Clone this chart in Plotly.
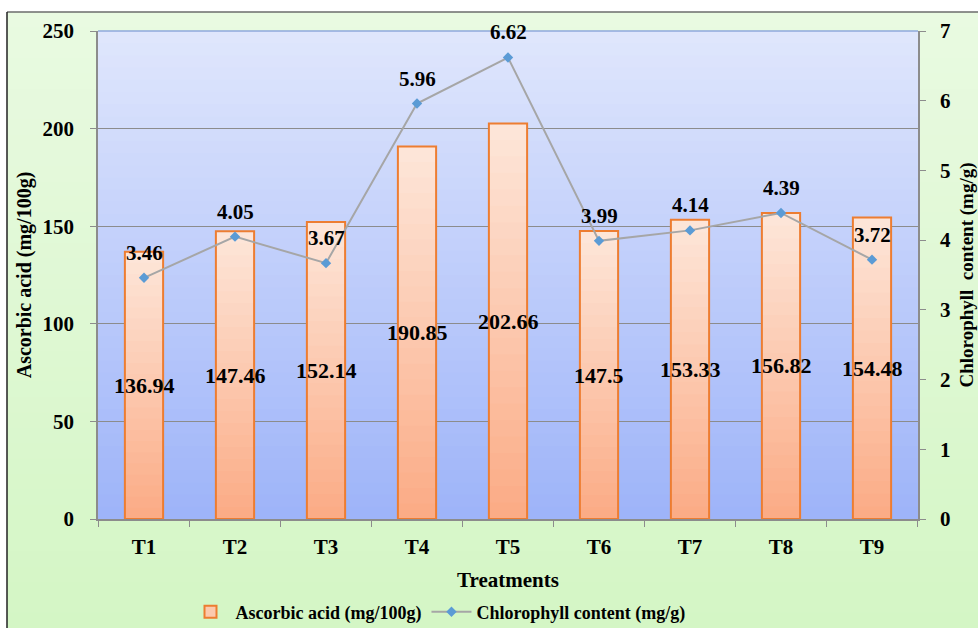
import plotly.graph_objects as go

categories = ["T1", "T2", "T3", "T4", "T5", "T6", "T7", "T8", "T9"]
ascorbic = [136.94, 147.46, 152.14, 190.85, 202.66, 147.5, 153.33, 156.82, 154.48]
chlorophyll = [3.46, 4.05, 3.67, 5.96, 6.62, 3.99, 4.14, 4.39, 3.72]

W, H = 978, 628
ML, MR, MT, MB = 98, 60, 31, 109
PW, PH = W - ML - MR, H - MT - MB

FONT = "Liberation Serif, Times New Roman, serif"


def px2x(px):
    return (px - ML) / PW


def py2y(py):
    return (H - MB - py) / PH


def lerp(c1, c2, t):
    return "rgb(%d,%d,%d)" % tuple(round(a + (b - a) * t) for a, b in zip(c1, c2))


fig = go.Figure()

# gradient bars (overlay of stacked shades)
N = 24
bar_top = (253, 229, 216)
bar_bot = (251, 172, 134)
for k in range(N):
    frac = (N - k) / N
    fig.add_trace(go.Bar(
        x=categories, y=[v * frac for v in ascorbic],
        marker=dict(color=lerp(bar_top, bar_bot, k / (N - 1)), line=dict(width=0)),
        width=0.42, showlegend=False, hoverinfo="skip",
    ))
fig.add_trace(go.Bar(
    x=categories, y=ascorbic, width=0.42, name="Ascorbic acid (mg/100g)",
    marker=dict(color="rgba(0,0,0,0)", line=dict(color="#ed7d31", width=2)),
    showlegend=False,
))
# legend entry for the bars
fig.add_trace(go.Bar(
    x=[categories[0]], y=[None], name="Ascorbic acid (mg/100g)",
    marker=dict(color="#fcc9ae", line=dict(color="#ed7d31", width=2)),
    showlegend=True, hoverinfo="skip",
))

fig.add_trace(go.Scatter(
    x=categories, y=chlorophyll, yaxis="y2",
    mode="lines+markers", name="Chlorophyll content (mg/g)",
    line=dict(color="#a6a6a6", width=2),
    marker=dict(symbol="diamond", size=8, color="#5b9bd5"),
))

annotations = []
for c, v in zip(categories, ascorbic):
    annotations.append(dict(x=c, y=v / 2, xref="x", yref="y", text="<b>%g</b>" % v,
                            showarrow=False, font=dict(family=FONT, size=22, color="black")))
for c, v in zip(categories, chlorophyll):
    annotations.append(dict(x=c, y=v, xref="x", yref="y2", text="<b>%.2f</b>" % v,
                            showarrow=False, yshift=25,
                            font=dict(family=FONT, size=21, color="black")))

shapes = []
# outer green gradient
NS = 40
g_top = (233, 250, 225)
g_bot = (212, 246, 197)
y_top_px, y_bot_px = 12, H
for i in range(NS):
    p0 = y_top_px + (y_bot_px - y_top_px) * i / NS
    p1 = y_top_px + (y_bot_px - y_top_px) * (i + 1) / NS + 1
    shapes.append(dict(type="rect", xref="paper", yref="paper", layer="below",
                       x0=px2x(7), x1=px2x(W + 2), y0=py2y(p1), y1=py2y(p0),
                       fillcolor=lerp(g_top, g_bot, i / (NS - 1)), line=dict(width=0)))
# plot area blue gradient
b_top = (223, 230, 252)
b_bot = (158, 180, 249)
for i in range(NS):
    shapes.append(dict(type="rect", xref="paper", yref="paper", layer="below",
                       x0=0, x1=1, y0=1 - (i + 1) / NS - 0.002, y1=1 - i / NS,
                       fillcolor=lerp(b_top, b_bot, i / (NS - 1)), line=dict(width=0)))
# frame lines
shapes.append(dict(type="line", xref="paper", yref="paper", x0=px2x(7), x1=px2x(W + 2),
                   y0=py2y(12), y1=py2y(12), line=dict(color="#6b6b6b", width=1.5)))
shapes.append(dict(type="line", xref="paper", yref="paper", x0=px2x(7), x1=px2x(7),
                   y0=py2y(12), y1=py2y(H + 2), line=dict(color="#222222", width=1.5)))
shapes.append(dict(type="line", xref="paper", yref="paper", x0=0, x1=1, y0=1, y1=1,
                   line=dict(color="#8fa9dc", width=1.5)))

tickfont = dict(family=FONT, size=21, color="black", weight="bold")
fig.update_layout(
    width=W, height=H,
    margin=dict(l=ML, r=MR, t=MT, b=MB, autoexpand=False),
    paper_bgcolor="white", plot_bgcolor="rgba(0,0,0,0)",
    barmode="overlay", bargap=0.58,
    shapes=shapes, annotations=annotations,
    showlegend=True,
    legend=dict(orientation="h", x=px2x(438), xanchor="center", y=py2y(612), yanchor="middle",
                font=dict(family=FONT, size=18, color="black", weight="bold"),
                bgcolor="rgba(0,0,0,0)", itemwidth=40, tracegroupgap=0),
    xaxis=dict(categoryorder="array", categoryarray=categories, automargin=False,
               showline=True, linecolor="#8c8c8c", linewidth=1.5,
               ticks="outside", tickson="boundaries", ticklen=6, tickcolor="#8c8c8c",
               tickfont=tickfont, showgrid=False, ticklabelstandoff=8,
               title=dict(text="Treatments", font=dict(family=FONT, size=21, color="black", weight="bold"),
                          standoff=14)),
    yaxis=dict(range=[0, 250], dtick=50, showline=True, linecolor="#8c8c8c", linewidth=1.5,
               automargin=False, ticklabelstandoff=12,
               ticks="outside", ticklen=6, tickcolor="#8c8c8c", tickfont=tickfont,
               showgrid=True, gridcolor="#8c8c8c", gridwidth=1, zeroline=False,
               title=dict(text="Ascorbic acid (mg/100g)",
                          font=dict(family=FONT, size=20, color="black", weight="bold"), standoff=6)),
    yaxis2=dict(range=[0, 7], dtick=1, overlaying="y", side="right", automargin=False,
                showline=True, linecolor="#8c8c8c", linewidth=1.5, ticklabelstandoff=10,
                ticks="outside", ticklen=6, tickcolor="#8c8c8c", tickfont=tickfont,
                showgrid=False, zeroline=False,
                title=dict(text="Chlorophyll  content (mg/g)",
                           font=dict(family=FONT, size=19, color="black", weight="bold"), standoff=12)),
)

fig.write_html("out.html", config={"displayModeBar": False},
               post_script="document.body.style.margin='0px';")
